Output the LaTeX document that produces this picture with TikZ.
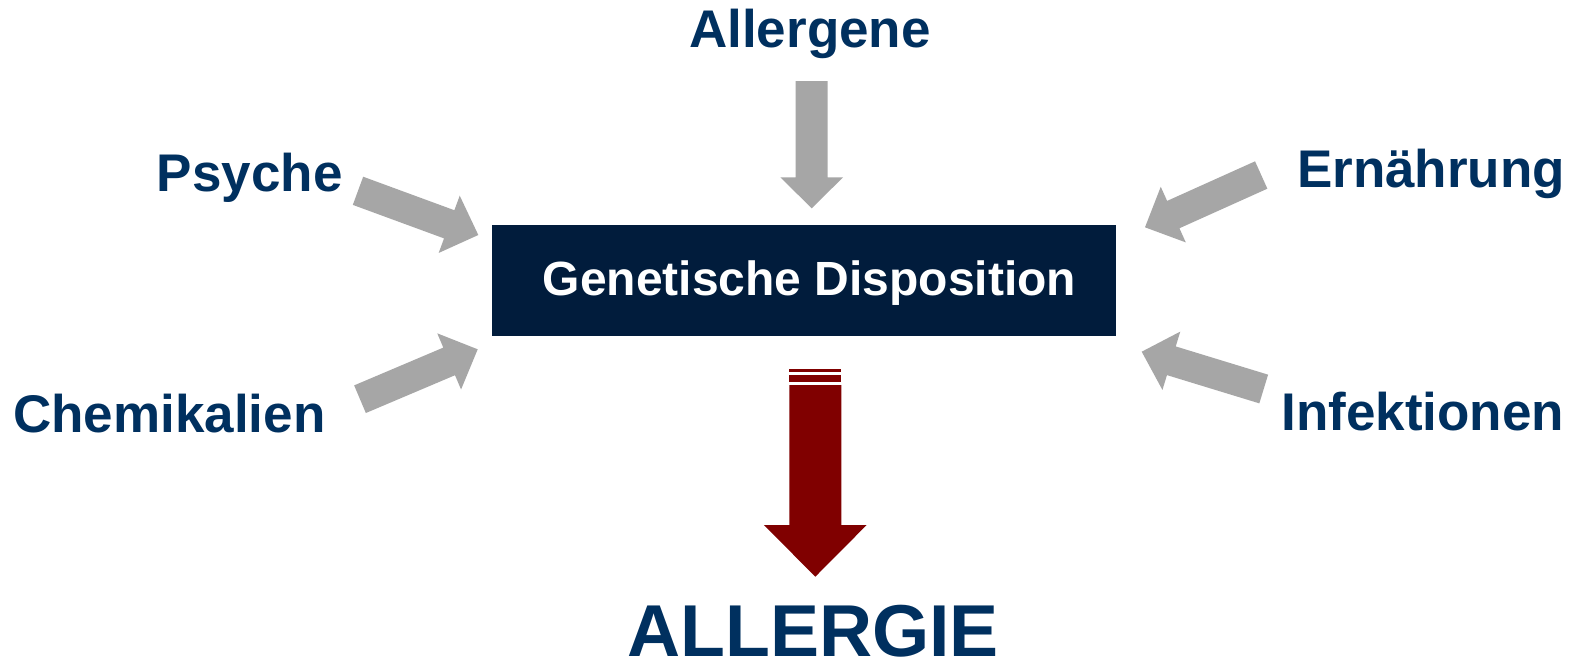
\documentclass[tikz,border=0pt]{standalone}
\usepackage{fontspec}
\setmainfont{Liberation Sans}
\usetikzlibrary{calc}
\definecolor{txtblue}{HTML}{00305F}
\definecolor{boxblue}{HTML}{011C3C}
\definecolor{arrgray}{HTML}{A6A6A6}
\definecolor{arrred}{HTML}{800000}
\tikzset{
  lbl/.style={inner sep=0pt, anchor=base, text=txtblue, font=\bfseries\fontsize{53}{60}\selectfont},
}
% \blockarrow{name}{colour}{shaft width}{head width}{head length}
\newcommand\blockarrow[5]{%
  \coordinate (#1-h) at ($(#1-p)!#5!(#1-t)$);
  \fill[#2] ($(#1-t)!#3/2!90:(#1-p)$) -- ($(#1-h)!#3/2!90:(#1-p)$)
    -- ($(#1-h)!#4/2!90:(#1-p)$) -- (#1-p)
    -- ($(#1-h)!#4/2!-90:(#1-p)$) -- ($(#1-h)!#3/2!-90:(#1-p)$)
    -- ($(#1-t)!#3/2!-90:(#1-p)$) -- cycle;
}
\begin{document}
\begin{tikzpicture}[x=1pt,y=-1pt]
\useasboundingbox[fill=white] (0,0) rectangle (1576,665);

% central box
\node[fill=boxblue, inner sep=0pt, minimum width=624pt, minimum height=111pt, anchor=north west] (box) at (491.5,225) {};
\node[inner sep=0pt, anchor=base, text=white, font=\bfseries\fontsize{48}{56}\selectfont] (gen) at (809.5,295.5) {Genetische Disposition};

% labels
\node[lbl] (allergene) at (810,47) {Allergene};
\node[lbl] (psyche) at (249.7,191) {Psyche};
\node[lbl] (ernaehrung) at (1431,187) {Ernährung};
\node[lbl] (chemikalien) at (169.3,432) {Chemikalien};
\node[lbl] (infektionen) at (1422.7,430) {Infektionen};
\node[lbl, font=\bfseries\fontsize{73.5}{80}\selectfont] (allergie) at (813,656) {ALLERGIE};

% gray arrows
\coordinate (a1-t) at (811.7,81);   \coordinate (a1-p) at (811.7,208.3);
\blockarrow{a1}{arrgray}{32pt}{62.7pt}{31pt}
\coordinate (a2-t) at (358,190.8);  \coordinate (a2-p) at (478.3,235);
\blockarrow{a2}{arrgray}{30pt}{61pt}{31pt}
\coordinate (a3-t) at (360,399.2);  \coordinate (a3-p) at (477.7,349.3);
\blockarrow{a3}{arrgray}{30pt}{61pt}{31pt}
\coordinate (a4-t) at (1261.2,175); \coordinate (a4-p) at (1145,227.3);
\blockarrow{a4}{arrgray}{30pt}{61pt}{31pt}
\coordinate (a5-t) at (1263.7,389); \coordinate (a5-p) at (1141.7,351.7);
\blockarrow{a5}{arrgray}{30pt}{61pt}{31pt}

% red arrow
\fill[arrred] (789.3,369) rectangle (841.3,372.3);
\fill[arrred] (789.3,375.3) rectangle (841.3,382.3);
\coordinate (r-t) at (815.3,385); \coordinate (r-p) at (815.3,576.7);
\blockarrow{r}{arrred}{52pt}{102.7pt}{51.7pt}
\end{tikzpicture}
\end{document}
